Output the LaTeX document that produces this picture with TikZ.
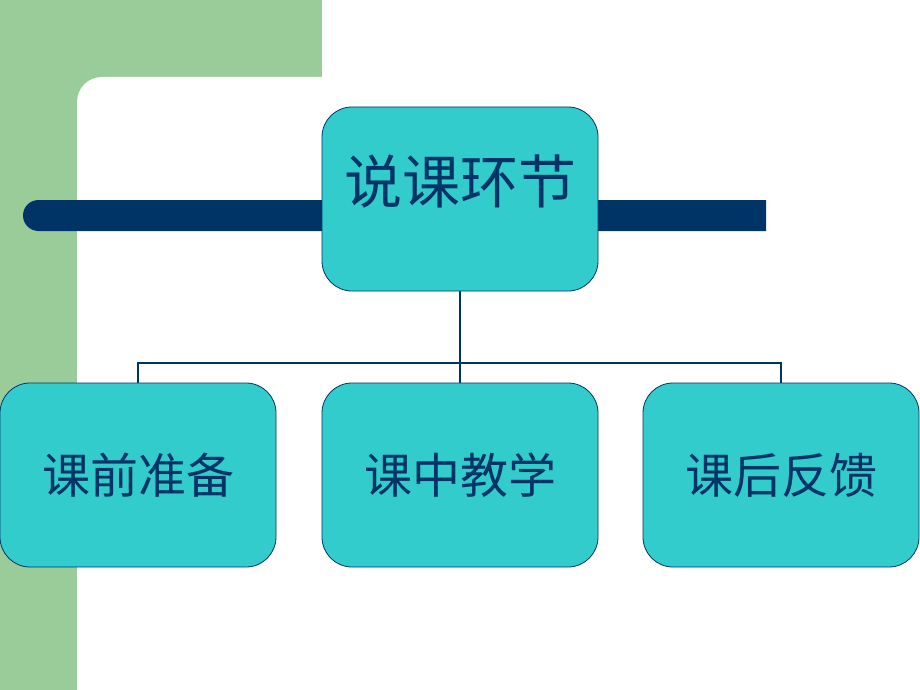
\documentclass[tikz,border=0pt]{standalone}
\usepackage{fontspec}
\newfontfamily\cjk{Noto Sans CJK SC}
\definecolor{slidegreen}{RGB}{153,204,153}
\definecolor{navy}{RGB}{0,51,102}
\definecolor{boxcyan}{RGB}{51,204,204}
\begin{document}
\begin{tikzpicture}[x=1pt,y=-1pt]
    \newcommand{\bigTxt}[1]{{\cjk\fontsize{58}{60}\selectfont #1}}
    \newcommand{\midTxt}[1]{{\cjk\fontsize{48}{50}\selectfont #1}}

    \tikzstyle{conn} = [line width=2.8pt,draw=navy]

    \tikzstyle{box}=[
      rectangle,
      rounded corners=30pt,
      draw=navy,
      fill=boxcyan,
      text=navy,
      anchor=center,
      line width=0.8pt,
      minimum width=276pt,
      minimum height=184pt,
      inner sep=0pt,
    ]

    \useasboundingbox (0,0) rectangle (920,690);

    % slide background
    \fill[slidegreen] (0,0) rectangle (322,120);
    \fill[slidegreen] (0,0) rectangle (77,690);
    \fill[white,rounded corners=25pt] (77,77) rectangle (360,690);
    \fill[white] (77,140) rectangle (360,690);
    \fill[navy] (766,200) [rounded corners=15.5pt] -- (23,200) -- (23,231) [sharp corners] -- (766,231) -- cycle;

    \node[box] (top) at (460,199) {\raisebox{40pt}{\bigTxt{说课环节}}};

    \node[box] (prep) at (138,475) {\raisebox{-4pt}{\midTxt{课前准备}}};
    \node[box] (teach) at (460,475) {\raisebox{-4pt}{\midTxt{课中教学}}};
    \node[box] (feedback) at (781,475) {\raisebox{-4pt}{\midTxt{课后反馈}}};

    \coordinate (split) at (460,363);

    \draw[conn] (top.south)--(split);
    \draw[conn] (split)-|(prep.north);
    \draw[conn] (split)--(teach.north);
    \draw[conn] (split)-|(feedback.north);
  \end{tikzpicture}
\end{document}
